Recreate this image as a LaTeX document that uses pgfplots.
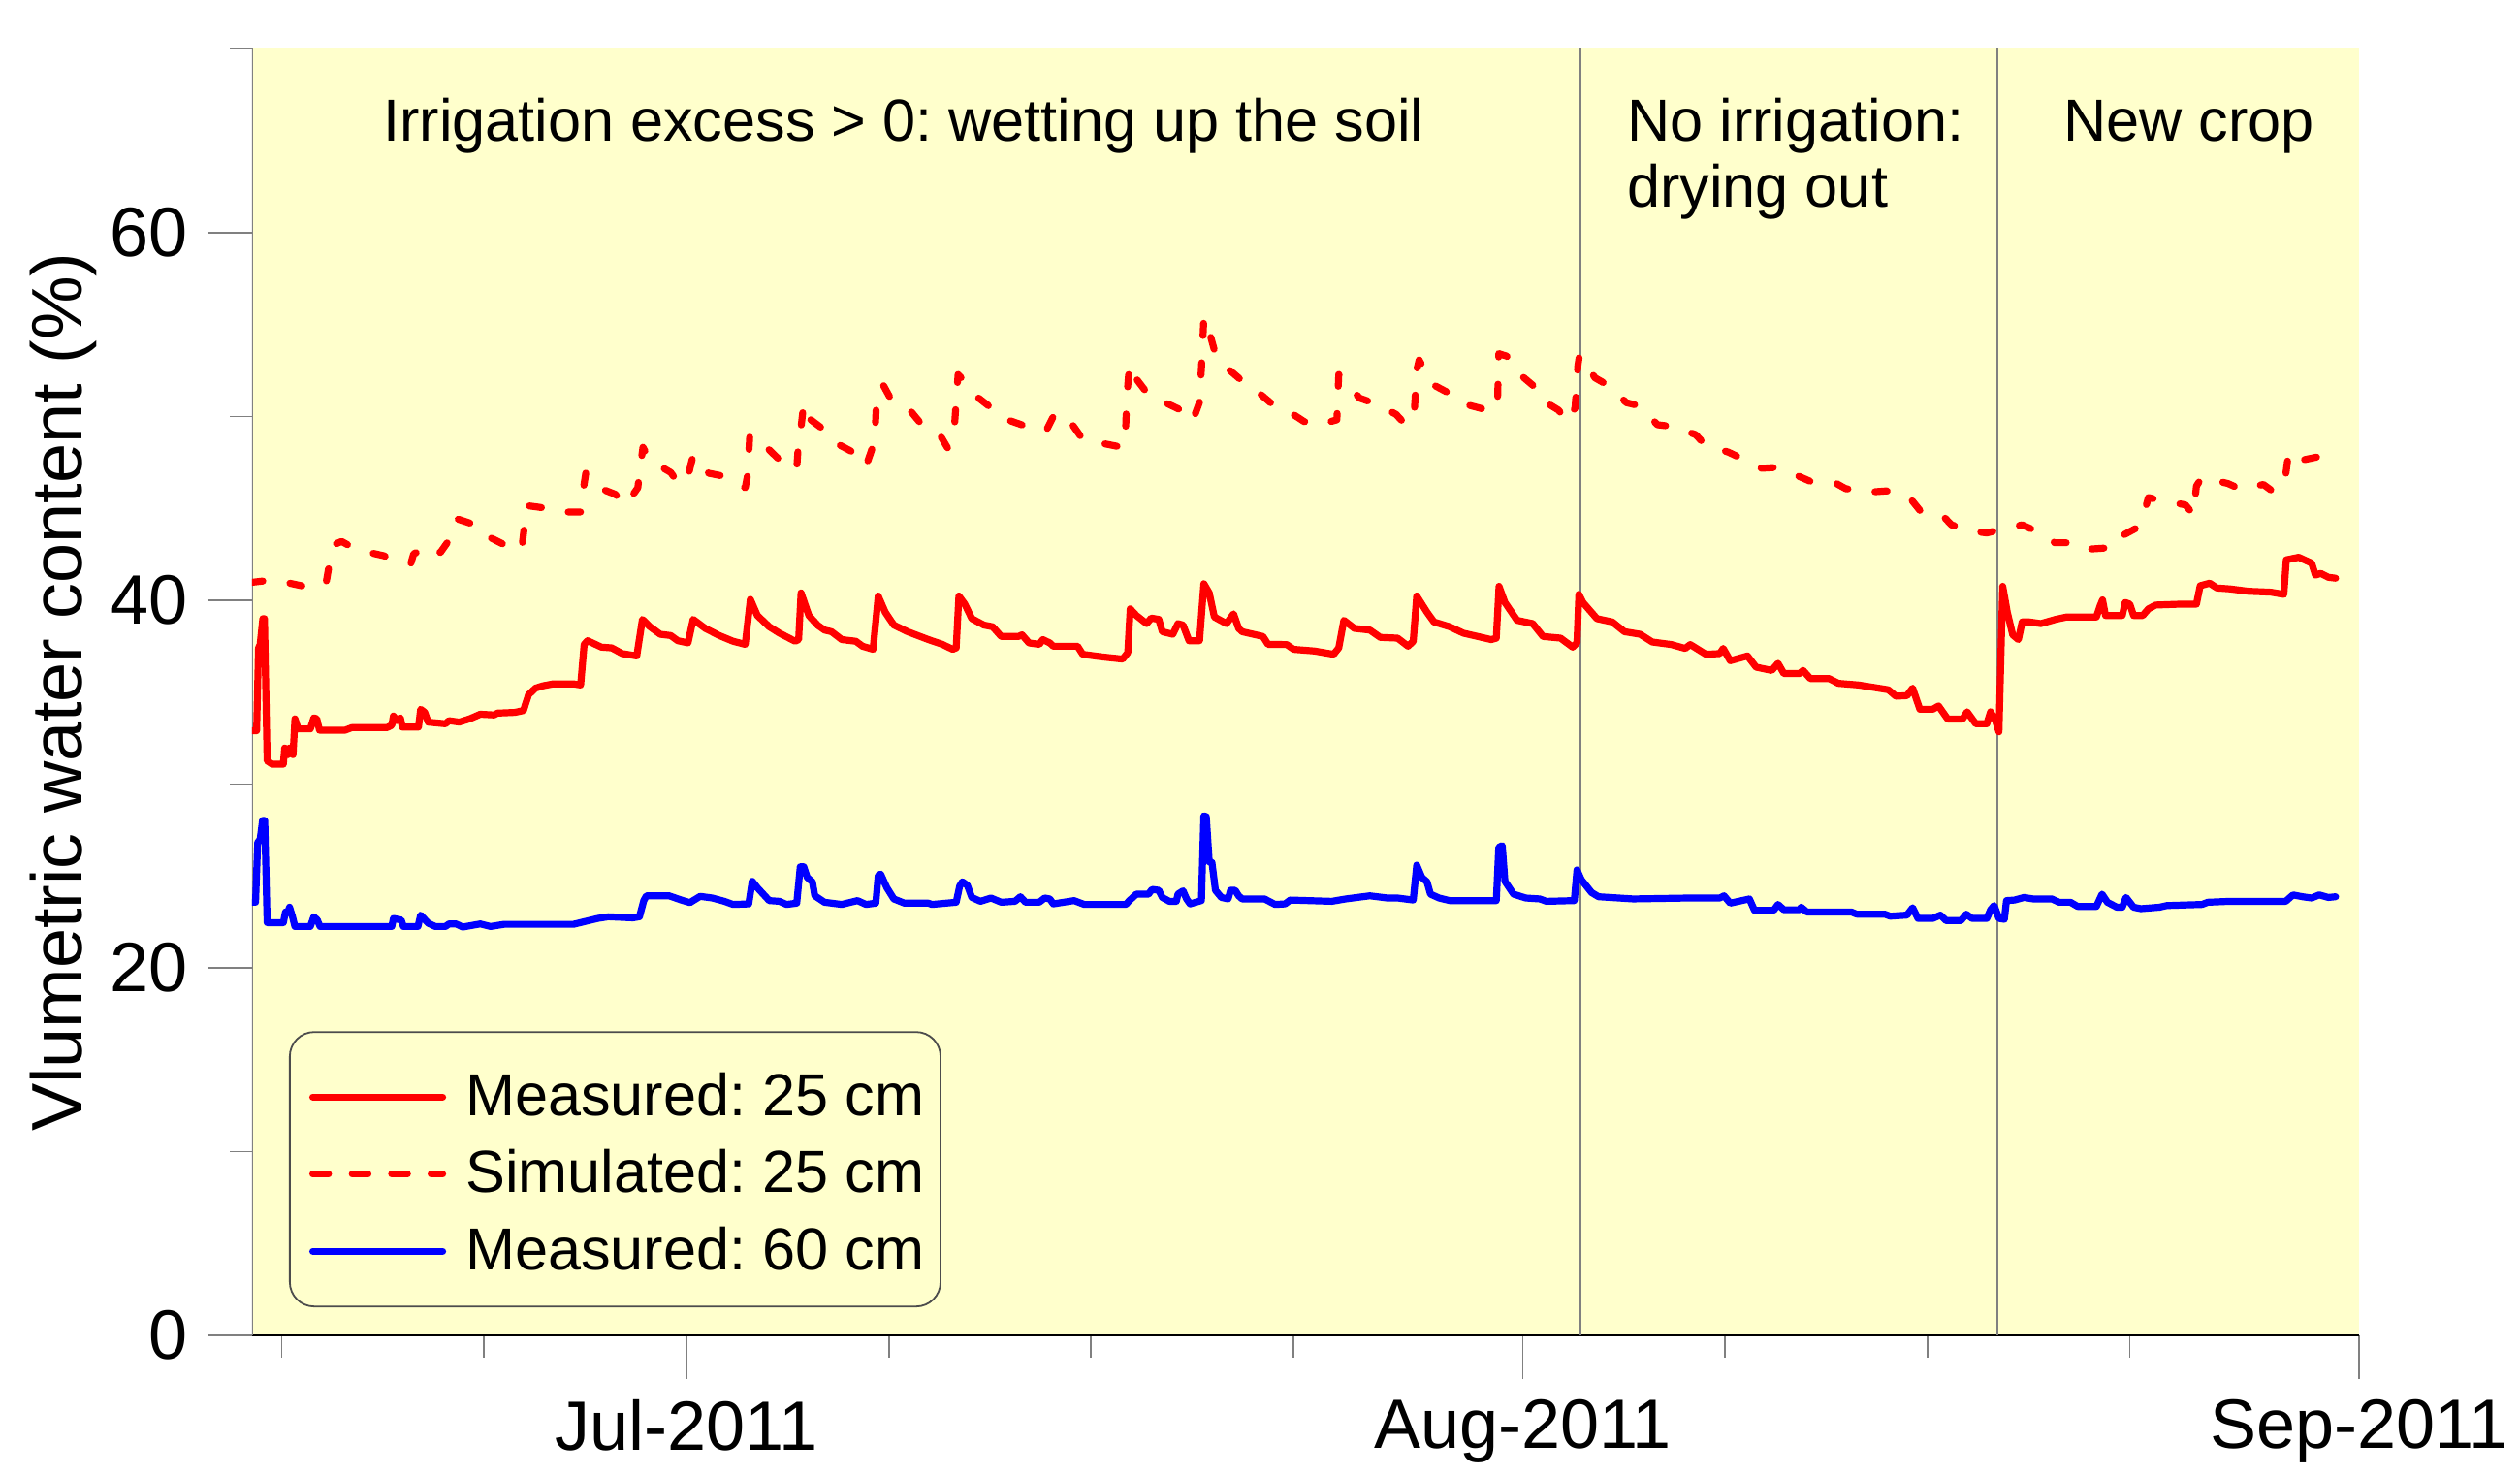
\documentclass[border=0pt]{standalone}
\usepackage{fontspec}
\setmainfont{Liberation Sans}
\usepackage{pgfplots}
\pgfplotsset{compat=1.18}
\definecolor{bgyellow}{RGB}{255,255,204}
\definecolor{axgray}{RGB}{128,128,128}
\frenchspacing
\begin{document}
\frenchspacing
\begin{tikzpicture}
\useasboundingbox (-72.2pt,-40pt) rectangle (649.7pt,382.5pt);
\begin{axis}[
  at={(0,0)}, anchor=south west,
  scale only axis, width=603.6pt, height=368.5pt,
  xmin=-16.1, xmax=62, ymin=0, ymax=70,
  axis background/.style={fill=bgyellow},
  axis line style={draw=none},
  xtick={0,31,62}, xticklabels={Jul-2011,Aug-2011,Sep-2011},
  minor xtick={-15,-7.5,7.5,15,22.5,38.5,46,53.5},
  ytick={0,20,40,60}, minor ytick={10,30,50,70},
  xtick pos=bottom, ytick pos=left,
  tick align=outside,
  major tick length=12.5pt, minor tick length=6.3pt,
  tick style={axgray, line width=0.5pt},
  /pgf/number format/assume math mode=true,
  tick label style={font=\fontsize{20}{24}\selectfont},
  yticklabel style={anchor=east, inner sep=0pt, xshift=-5.8pt},
  xticklabel style={anchor=north, inner sep=0pt, yshift=-5.8pt},
  ylabel={Vlumetric water content (\%)},
  every axis y label/.style={at={(axis description cs:-0.0893,0.5)}, rotate=90, anchor=center, font=\fontsize{20.5}{24}\selectfont},
  legend style={at={(axis description cs:0.02717,0.20665)}, anchor=north west,
    draw=none, fill=none, outer sep=0pt,
    font=\fontsize{17}{20}\selectfont, inner xsep=0pt, inner ysep=0pt,
    row sep=6.4pt, column sep=5.6pt,
    nodes={inner sep=0pt, outer sep=0pt, text height=13.15pt, text depth=2.55pt}},
  legend cell align=left,
  legend image code/.code={\path (0pt,0pt) -- (37.2pt,0pt); \draw[#1] (1pt,0pt) -- (36.2pt,0pt);},
]
\draw[black, line width=0.6pt] (rel axis cs:0,0) -- (rel axis cs:1,0);
\draw[axgray, line width=0.6pt] (rel axis cs:0,0) -- (rel axis cs:0,1);
\draw[axgray, line width=0.5pt] (axis cs:33.15,0) -- (axis cs:33.15,70);
\draw[axgray, line width=0.5pt] (axis cs:48.6,0) -- (axis cs:48.6,70);
\draw[black!70, line width=0.5pt, rounded corners=7pt, fill=bgyellow] (axis cs:-14.70,1.577) rectangle (axis cs:9.42,16.51);

% Measured 25 cm
\addplot[red, line width=2pt, line cap=round, line join=round] coordinates {
(-16.15,32.9)(-15.93,32.9)(-15.86,37.4)(-15.8,37.6)(-15.7,39.0)(-15.64,39.0)(-15.54,31.26)(-15.35,31.08)(-14.94,31.08)(-14.89,31.96)(-14.77,31.6)(-14.71,31.96)(-14.58,31.6)(-14.51,33.55)(-14.39,33.0)(-13.94,33.0)(-13.81,33.6)(-13.7,33.55)(-13.6,32.93)(-12.65,32.93)(-12.4,33.07)(-11.1,33.07)(-10.92,33.2)(-10.86,33.7)(-10.73,33.45)(-10.6,33.6)(-10.53,33.1)(-9.93,33.1)(-9.85,34.07)(-9.7,33.9)(-9.57,33.37)(-8.93,33.28)(-8.8,33.45)(-8.42,33.37)(-8.03,33.55)(-7.64,33.8)(-7.13,33.76)(-7.0,33.86)(-6.36,33.9)(-6.04,34.0)(-5.85,34.86)(-5.59,35.22)(-5.33,35.34)(-4.95,35.45)(-4.18,35.45)(-3.92,35.39)(-3.79,37.6)(-3.66,37.8)(-3.15,37.45)(-2.77,37.41)(-2.38,37.1)(-1.84,36.97)(-1.63,38.96)(-1.35,38.56)(-0.97,38.15)(-0.58,38.08)(-0.32,37.8)(0.06,37.68)(0.25,38.96)(0.70,38.47)(1.22,38.08)(1.73,37.77)(2.18,37.6)(2.37,40.05)(2.63,39.17)(3.07,38.56)(3.45,38.21)(4.03,37.77)(4.16,37.86)(4.25,40.4)(4.54,39.17)(4.86,38.65)(5.12,38.38)(5.38,38.29)(5.76,37.86)(6.28,37.77)(6.53,37.5)(6.92,37.33)(7.11,40.23)(7.37,39.35)(7.69,38.65)(8.2,38.29)(8.97,37.86)(9.49,37.6)(9.87,37.33)(10.0,37.41)(10.1,40.23)(10.32,39.79)(10.58,39.0)(11.03,38.65)(11.35,38.56)(11.67,38.03)(12.31,38.03)(12.44,38.12)(12.7,37.68)(13.08,37.6)(13.21,37.86)(13.47,37.68)(13.6,37.5)(14.5,37.5)(14.69,37.06)(15.4,36.92)(16.17,36.8)(16.36,37.15)(16.45,39.53)(16.68,39.17)(17.06,38.73)(17.23,39.03)(17.51,38.96)(17.64,38.29)(18.03,38.15)(18.22,38.73)(18.41,38.65)(18.63,37.8)(19.02,37.8)(19.18,40.9)(19.38,40.4)(19.57,39.09)(20.02,38.73)(20.28,39.26)(20.47,38.47)(20.6,38.29)(21.37,38.03)(21.56,37.6)(22.25,37.59)(22.51,37.33)(23.28,37.24)(23.99,37.06)(24.18,37.41)(24.37,38.91)(24.76,38.47)(25.33,38.38)(25.72,37.98)(26.36,37.94)(26.75,37.5)(26.94,37.77)(27.07,40.23)(27.45,39.35)(27.71,38.82)(28.29,38.56)(28.8,38.21)(29.83,37.86)(30.02,37.94)(30.12,40.76)(30.34,39.88)(30.79,38.91)(31.37,38.73)(31.75,38.03)(32.4,37.94)(32.85,37.45)(33.01,37.68)(33.08,40.32)(33.23,39.88)(33.75,39.0)(34.32,38.82)(34.77,38.29)(35.35,38.15)(35.8,37.73)(36.51,37.59)(37.02,37.38)(37.21,37.59)(37.79,37.06)(38.3,37.1)(38.43,37.38)(38.69,36.71)(39.33,36.97)(39.65,36.36)(40.23,36.18)(40.46,36.57)(40.68,36.01)(41.26,36.01)(41.39,36.18)(41.66,35.74)(42.35,35.74)(42.7,35.48)(43.45,35.39)(44.55,35.13)(44.83,34.78)(45.24,34.81)(45.45,35.22)(45.72,34.07)(46.2,34.07)(46.41,34.25)(46.75,33.54)(47.3,33.54)(47.47,33.93)(47.79,33.28)(48.2,33.28)(48.34,33.93)(48.52,33.46)(48.65,32.84)(48.79,40.76)(48.96,39.35)(49.16,38.12)(49.37,37.86)(49.51,38.82)(49.78,38.82)(50.2,38.73)(50.75,38.96)(51.16,39.09)(52.26,39.09)(52.4,39.7)(52.49,40.02)(52.6,39.17)(53.22,39.17)(53.33,39.88)(53.5,39.79)(53.64,39.17)(53.98,39.17)(54.19,39.53)(54.46,39.74)(55.42,39.79)(55.97,39.79)(56.11,40.79)(56.46,40.93)(56.73,40.67)(57.21,40.62)(57.9,40.49)(58.73,40.44)(59.21,40.32)(59.3,42.2)(59.76,42.34)(60.24,42.02)(60.38,41.37)(60.58,41.46)(60.86,41.25)(61.13,41.2)
};
\addlegendentry{Measured: 25 cm}

% Simulated 25 cm
\addplot[red, line width=2pt, line cap=round, line join=round, dash pattern=on 3.5pt off 7.8pt] coordinates {
(-16.15,40.97)(-15.61,41.06)(-14.71,40.93)(-14.17,40.76)(-13.36,40.9)(-13.27,41.67)(-13.04,43.04)(-12.78,43.2)(-12.52,42.99)(-11.75,42.6)(-11.24,42.43)(-10.34,41.99)(-10.21,42.02)(-10.11,42.52)(-9.51,42.96)(-9.12,42.6)(-8.61,43.66)(-8.48,44.42)(-7.64,44.01)(-7.26,43.4)(-6.3,42.69)(-6.1,42.87)(-5.91,45.15)(-5.07,44.98)(-4.5,44.8)(-3.92,44.8)(-3.86,45.68)(-3.73,46.91)(-3.41,46.21)(-2.64,45.77)(-2.25,45.19)(-1.8,46.12)(-1.74,46.91)(-1.61,48.32)(-1.35,47.62)(-0.58,46.95)(-0.26,46.3)(0.06,46.74)(0.25,47.88)(0.83,46.91)(1.41,46.74)(2.18,46.12)(2.27,46.83)(2.35,49.02)(2.63,48.71)(3.01,48.27)(3.77,47.18)(4.09,47.18)(4.16,48.67)(4.26,49.55)(4.35,50.7)(4.54,49.9)(5.25,49.11)(5.57,48.53)(6.34,47.93)(6.66,47.3)(6.98,48.67)(7.05,50.96)(7.3,51.7)(7.56,51.0)(8.33,50.26)(8.65,49.69)(9.42,48.94)(9.68,48.29)(9.94,49.55)(10.07,52.28)(10.45,51.7)(10.71,51.14)(11.48,50.26)(11.8,49.87)(12.76,49.38)(13.34,49.24)(13.66,50.17)(14.18,49.82)(14.69,48.76)(15.27,48.58)(16.17,48.32)(16.27,48.85)(16.32,50.96)(16.42,52.81)(16.49,52.4)(17.06,51.31)(17.58,50.87)(18.41,50.29)(18.76,49.73)(19.02,50.78)(19.12,53.42)(19.18,55.39)(19.31,55.0)(19.57,53.6)(19.83,52.9)(20.53,52.02)(20.98,51.58)(21.69,50.7)(22.12,50.47)(22.89,49.73)(23.47,49.55)(24.11,49.82)(24.18,52.28)(24.31,52.1)(24.95,51.0)(25.53,50.7)(26.3,50.12)(26.68,49.52)(26.98,50.26)(27.07,52.54)(27.16,53.07)(27.65,51.75)(28.16,51.35)(28.93,50.64)(29.47,50.43)(30.06,50.47)(30.11,53.42)(30.41,53.28)(30.66,52.58)(31.37,51.7)(31.6,51.0)(32.33,50.34)(32.65,49.69)(32.94,50.47)(33.04,52.72)(33.1,53.33)(33.68,52.1)(34.2,51.66)(34.84,50.75)(35.35,50.57)(35.99,49.55)(36.51,49.46)(37.4,49.02)(37.76,48.46)(38.62,48.06)(39.01,47.79)(39.85,47.18)(40.42,47.23)(41.19,46.77)(41.66,46.47)(42.63,46.35)(42.97,46.07)(44.0,45.9)(44.48,45.95)(45.38,45.51)(45.72,44.89)(46.55,44.63)(46.89,44.1)(47.72,43.75)(48.2,43.66)(49.03,43.96)(49.51,44.1)(50.33,43.57)(50.72,43.13)(51.57,43.13)(51.98,42.78)(52.88,42.87)(53.08,43.4)(53.7,43.89)(53.94,44.28)(54.19,45.59)(54.67,45.42)(55.56,45.19)(55.86,44.66)(55.97,46.21)(56.18,46.7)(57.14,46.35)(57.63,46.03)(58.45,46.3)(58.86,45.86)(59.28,46.83)(59.35,47.62)(59.62,48.18)(59.97,47.65)(60.72,47.88)(61.09,47.44)
};
\addlegendentry{Simulated: 25 cm}

% Measured 60 cm
\addplot[blue, line width=2pt, line cap=round, line join=round] coordinates {
(-16.15,23.57)(-15.97,23.57)(-15.89,26.82)(-15.8,27.0)(-15.71,28.02)(-15.63,28.02)(-15.54,22.46)(-14.94,22.46)(-14.86,23.04)(-14.77,23.04)(-14.71,23.3)(-14.6,22.78)(-14.51,22.25)(-13.94,22.25)(-13.81,22.78)(-13.68,22.6)(-13.58,22.25)(-10.92,22.25)(-10.86,22.69)(-10.57,22.6)(-10.49,22.25)(-9.95,22.25)(-9.85,22.87)(-9.57,22.43)(-9.31,22.25)(-8.93,22.25)(-8.8,22.39)(-8.54,22.39)(-8.29,22.22)(-7.64,22.39)(-7.26,22.25)(-6.75,22.37)(-4.18,22.37)(-3.79,22.51)(-3.28,22.69)(-2.89,22.78)(-1.99,22.72)(-1.74,22.78)(-1.58,23.66)(-1.48,23.92)(-0.64,23.92)(-0.19,23.69)(0.13,23.55)(0.51,23.89)(0.96,23.8)(1.41,23.62)(1.73,23.45)(2.31,23.48)(2.44,24.71)(2.63,24.36)(3.07,23.66)(3.45,23.62)(3.71,23.45)(4.09,23.52)(4.22,25.5)(4.35,25.5)(4.48,24.92)(4.67,24.68)(4.76,23.92)(5.12,23.57)(5.76,23.45)(6.34,23.66)(6.66,23.45)(7.02,23.52)(7.11,25.03)(7.2,25.1)(7.43,24.36)(7.69,23.75)(8.08,23.52)(8.97,23.52)(9.1,23.45)(10.0,23.57)(10.13,24.45)(10.23,24.68)(10.41,24.5)(10.58,23.83)(10.9,23.62)(11.29,23.8)(11.67,23.57)(12.18,23.62)(12.38,23.87)(12.57,23.57)(13.08,23.57)(13.28,23.8)(13.47,23.75)(13.6,23.48)(14.37,23.66)(14.75,23.45)(16.29,23.45)(16.42,23.66)(16.68,24.01)(17.13,24.01)(17.26,24.27)(17.51,24.22)(17.64,23.83)(17.9,23.62)(18.16,23.62)(18.22,24.01)(18.41,24.19)(18.54,23.75)(18.67,23.48)(19.09,23.66)(19.18,28.27)(19.27,28.23)(19.38,25.77)(19.48,25.73)(19.61,24.22)(19.83,23.83)(20.08,23.75)(20.17,24.22)(20.34,24.22)(20.47,23.92)(20.6,23.75)(21.43,23.75)(21.82,23.45)(22.19,23.48)(22.38,23.69)(23.92,23.62)(24.44,23.75)(25.33,23.92)(25.98,23.8)(26.36,23.8)(26.94,23.69)(27.07,25.59)(27.26,24.92)(27.45,24.68)(27.58,24.01)(27.9,23.8)(28.29,23.66)(30.02,23.66)(30.11,26.56)(30.24,26.65)(30.34,24.71)(30.54,24.27)(30.66,24.01)(31.11,23.8)(31.63,23.75)(31.88,23.62)(32.91,23.66)(33.01,25.33)(33.17,24.8)(33.55,24.1)(33.81,23.87)(35.09,23.75)(37.15,23.8)(38.3,23.8)(38.46,23.92)(38.69,23.52)(39.4,23.75)(39.59,23.13)(40.3,23.13)(40.46,23.45)(40.68,23.16)(41.26,23.16)(41.32,23.3)(41.53,23.04)(43.18,23.04)(43.38,22.92)(44.42,22.92)(44.62,22.81)(45.24,22.87)(45.45,23.27)(45.65,22.69)(46.2,22.69)(46.48,22.87)(46.69,22.57)(47.24,22.57)(47.44,22.92)(47.65,22.69)(48.2,22.69)(48.34,23.16)(48.47,23.39)(48.65,22.69)(48.85,22.64)(48.93,23.66)(49.23,23.69)(49.58,23.83)(49.92,23.75)(50.61,23.75)(50.88,23.57)(51.3,23.57)(51.57,23.34)(52.26,23.34)(52.47,24.01)(52.67,23.57)(53.02,23.3)(53.22,23.3)(53.36,23.83)(53.64,23.3)(53.91,23.22)(54.6,23.3)(54.87,23.39)(56.18,23.45)(56.39,23.57)(57.21,23.62)(59.28,23.62)(59.55,23.97)(59.9,23.87)(60.24,23.8)(60.52,23.97)(60.86,23.83)(61.13,23.87)
};
\addlegendentry{Measured: 60 cm}

\node[anchor=base, inner sep=0pt, font=\fontsize{17}{20}\selectfont] at (axis cs:8.05,65) {Irrigation excess > 0: wetting up the soil};
\node[anchor=base west, inner sep=0pt, font=\fontsize{17}{20}\selectfont] at (axis cs:34.85,65) {No irrigation:};
\node[anchor=base west, inner sep=0pt, font=\fontsize{17}{20}\selectfont] at (axis cs:34.85,61.4) {drying out};
\node[anchor=base, inner sep=0pt, font=\fontsize{17}{20}\selectfont] at (axis cs:55.7,65) {New crop};
\end{axis}
\end{tikzpicture}
\end{document}
